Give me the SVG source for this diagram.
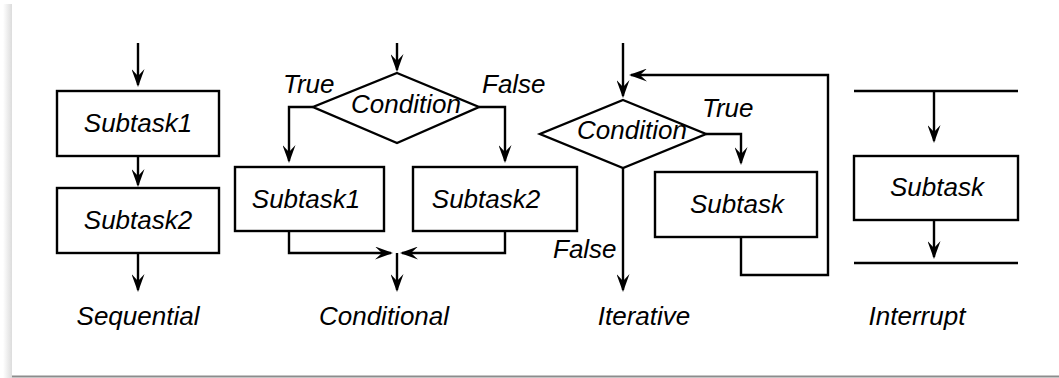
<svg xmlns="http://www.w3.org/2000/svg" width="1059" height="378" viewBox="0 0 1059 378">
<style>
.box{fill:#fff;stroke:#000;stroke-width:2.4}
.ln{fill:none;stroke:#000;stroke-width:2.4}
.ar{fill:none;stroke:#000;stroke-width:2.4;marker-end:url(#ah)}
text{font-family:"Liberation Sans",Arial,sans-serif;font-style:italic;font-size:26px;fill:#000}
.c{text-anchor:middle}
</style>
<defs>
<marker id="ah" viewBox="0 0 18 13" refX="16" refY="6.5" markerWidth="18" markerHeight="13" markerUnits="userSpaceOnUse" orient="auto">
<path d="M0,0 L18,6.5 L0,13 L7,6.5 z" fill="#000"/>
</marker>
<linearGradient id="sh" x1="0" y1="0" x2="1" y2="0">
<stop offset="0" stop-color="#fff"/>
<stop offset="1" stop-color="#dcdcdc"/>
</linearGradient>
</defs>
<rect x="0" y="0" width="1059" height="378" fill="#fff"/>
<rect x="3" y="4" width="9" height="374" fill="url(#sh)"/>
<line x1="12" y1="376.5" x2="1059" y2="376.5" stroke="#8c8c8c" stroke-width="2"/>

<g id="connectors">
<path class="ar" d="M138,43 V85"/>
<path class="ar" d="M138,156 V185"/>
<path class="ar" d="M138,253 V290"/>
<path class="ar" d="M397,43 V70"/>
<path class="ar" d="M313,107 H289 V161"/>
<path class="ar" d="M479,107 H505 V161"/>
<path class="ar" d="M289,231 V253 H391"/>
<path class="ar" d="M505,231 V253 H402"/>
<path class="ar" d="M397,253 V290"/>
<path class="ar" d="M623,43 V96"/>
<path class="ar" d="M706,134 H741 V163"/>
<path class="ar" d="M741,237 V275 H828 V75 H631"/>
<path class="ar" d="M623,168 V290"/>
<path class="ln" d="M854,91 H1018"/>
<path class="ar" d="M934,91 V141"/>
<path class="ar" d="M934,220 V257"/>
<path class="ln" d="M854,263 H1018"/>
</g>

<g id="seq-subtask1"><rect class="box" x="57" y="91" width="162" height="65"/><text class="c" x="138" y="132">Subtask1</text></g>
<g id="seq-subtask2"><rect class="box" x="57" y="188" width="162" height="65"/><text class="c" x="138" y="229">Subtask2</text></g>
<g id="seq-label"><text class="c" x="138" y="325">Sequential</text></g>

<g id="cond-condition"><polygon class="box" points="397,73 479,107 397,143 313,107"/><text class="c" x="406" y="113">Condition</text></g>
<g id="cond-true"><text x="283" y="93">True</text></g>
<g id="cond-false"><text x="482" y="93">False</text></g>
<g id="cond-subtask1"><rect class="box" x="235" y="167" width="149" height="64"/><text class="c" x="306" y="208">Subtask1</text></g>
<g id="cond-subtask2"><rect class="box" x="413" y="167" width="164" height="64"/><text class="c" x="486" y="208">Subtask2</text></g>
<g id="cond-label"><text class="c" x="384" y="325">Conditional</text></g>

<g id="iter-condition"><polygon class="box" points="623,100 706,134 623,168 540,134"/><text class="c" x="632" y="139">Condition</text></g>
<g id="iter-true"><text x="702" y="117">True</text></g>
<g id="iter-subtask"><rect class="box" x="655" y="172" width="162" height="65"/><text class="c" x="737" y="213">Subtask</text></g>
<g id="iter-false"><text x="553" y="258">False</text></g>
<g id="iter-label"><text class="c" x="644" y="325">Iterative</text></g>

<g id="int-subtask"><rect class="box" x="854" y="156" width="164" height="64"/><text class="c" x="937" y="196">Subtask</text></g>
<g id="int-label"><text class="c" x="917" y="325">Interrupt</text></g>
</svg>
